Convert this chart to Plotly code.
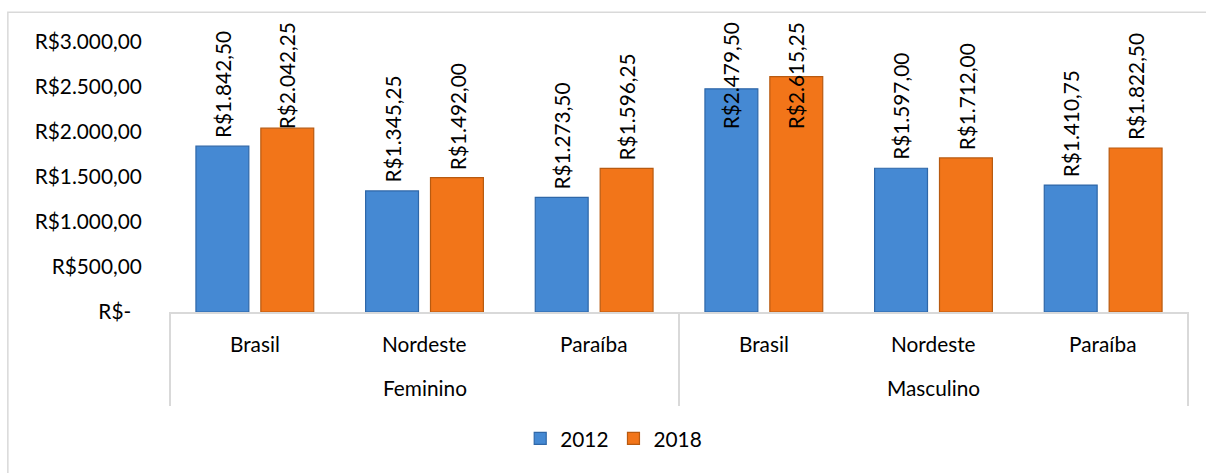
import plotly.graph_objects as go

# ---- data ----
groups = ["Feminino", "Feminino", "Feminino", "Masculino", "Masculino", "Masculino"]
regions = ["Brasil", "Nordeste", "Paraíba", "Brasil", "Nordeste", "Paraíba"]
group_names = ["Feminino", "Masculino"]
series_names = ["2012", "2018"]
values_2012 = [1842.50, 1345.25, 1273.50, 2479.50, 1597.00, 1410.75]
values_2018 = [2042.25, 1492.00, 1596.25, 2615.25, 1712.00, 1822.50]
y_tickvals = [0, 500, 1000, 1500, 2000, 2500, 3000]
y_ticktext = ["R$-\u00a0\u00a0", "R$500,00", "R$1.000,00", "R$1.500,00",
              "R$2.000,00", "R$2.500,00", "R$3.000,00"]

# ---- style ----
FONT = "Lato, Calibri, Open Sans, sans-serif"
FS = 20.8
BLUE = "#4589d3"
BLUE_EDGE = "#2f67a8"
ORANGE = "#f27519"
ORANGE_EDGE = "#b85a10"
GRID = "#d9d9d9"
BARGAP = 0.235
BARGROUPGAP = 0.185
YMAX = 3000
LABEL_CAP = 1950       # labels of taller bars are pushed down to fit the chart area
LABEL_TOP_PAPER = 1.08  # top edge of pushed labels (paper units)
REGION_LABEL_Y = -0.118
GROUP_LABEL_Y = -0.281
BOX_BOTTOM = -0.348


def brl(v):
    s = f"{v:,.2f}"
    s = s.replace(",", "X").replace(".", ",").replace("X", ".")
    return "R$" + s


x = [groups, regions]
fig = go.Figure()
for name, vals, col, edge in [(series_names[0], values_2012, BLUE, BLUE_EDGE),
                              (series_names[1], values_2018, ORANGE, ORANGE_EDGE)]:
    fig.add_trace(go.Bar(
        x=x, y=vals, name=name,
        marker=dict(color=col, line=dict(color=edge, width=1.2)),
    ))

lab_font = dict(family=FONT, size=FS, color="black")
half = (1 - BARGAP) / 4
annotations = []
# data labels (rotated)
for k, vals in enumerate([values_2012, values_2018]):
    off = -half if k == 0 else half
    for i, v in enumerate(vals):
        if v > LABEL_CAP:
            yy, yref, ya, ys = LABEL_TOP_PAPER, "paper", "top", 0
        else:
            yy, yref, ya, ys = v, "y", "bottom", 6
        annotations.append(dict(
            x=i + off, y=yy, xref="x", yref=yref, text=brl(v),
            textangle=-90, showarrow=False, yanchor=ya, xanchor="center",
            yshift=ys, font=lab_font,
        ))
# category labels
for i, r in enumerate(regions):
    annotations.append(dict(x=i, y=REGION_LABEL_Y, xref="x", yref="paper", text=r,
                            showarrow=False, yanchor="middle", font=lab_font))
# group labels
n_per = len(regions) // len(group_names)
for g, gname in enumerate(group_names):
    annotations.append(dict(x=g * n_per + (n_per - 1) / 2, y=GROUP_LABEL_Y, xref="x",
                            yref="paper", text=gname, showarrow=False,
                            yanchor="middle", font=lab_font))

shapes = [dict(type="rect", xref="paper", yref="paper",
               x0=-0.158, x1=1.05, y0=-0.7, y1=1.11,
               line=dict(color=GRID, width=1.5), fillcolor="rgba(0,0,0,0)", layer="below")]
for g in range(len(group_names) + 1):
    xb = g * n_per - 0.5
    shapes.append(dict(type="line", xref="x", yref="paper", x0=xb, x1=xb,
                       y0=0, y1=BOX_BOTTOM, line=dict(color=GRID, width=2)))

fig.update_layout(
    width=1206, height=473,
    margin=dict(l=169, r=17, t=42, b=161),
    paper_bgcolor="white", plot_bgcolor="white",
    barmode="group", bargap=BARGAP, bargroupgap=BARGROUPGAP,
    font=dict(family=FONT, size=FS, color="black"),
    showlegend=True,
    legend=dict(orientation="h", x=0.436, xanchor="center", y=-0.47, yanchor="middle",
                font=dict(size=FS), itemwidth=30, traceorder="normal"),
    annotations=annotations,
    shapes=shapes,
)
fig.update_yaxes(range=[0, YMAX], tickvals=y_tickvals, ticktext=y_ticktext,
                 showgrid=False, zeroline=False, showline=False,
                 ticks="outside", ticklen=22, tickcolor="rgba(0,0,0,0)",
                 tickfont=dict(size=FS))
fig.update_xaxes(type="multicategory", showline=True, linecolor=GRID, linewidth=2,
                 showdividers=False, showticklabels=False, ticks="")

fig.write_html("out.html", config={"displayModeBar": False},
               post_script="document.body.style.margin='0';")
